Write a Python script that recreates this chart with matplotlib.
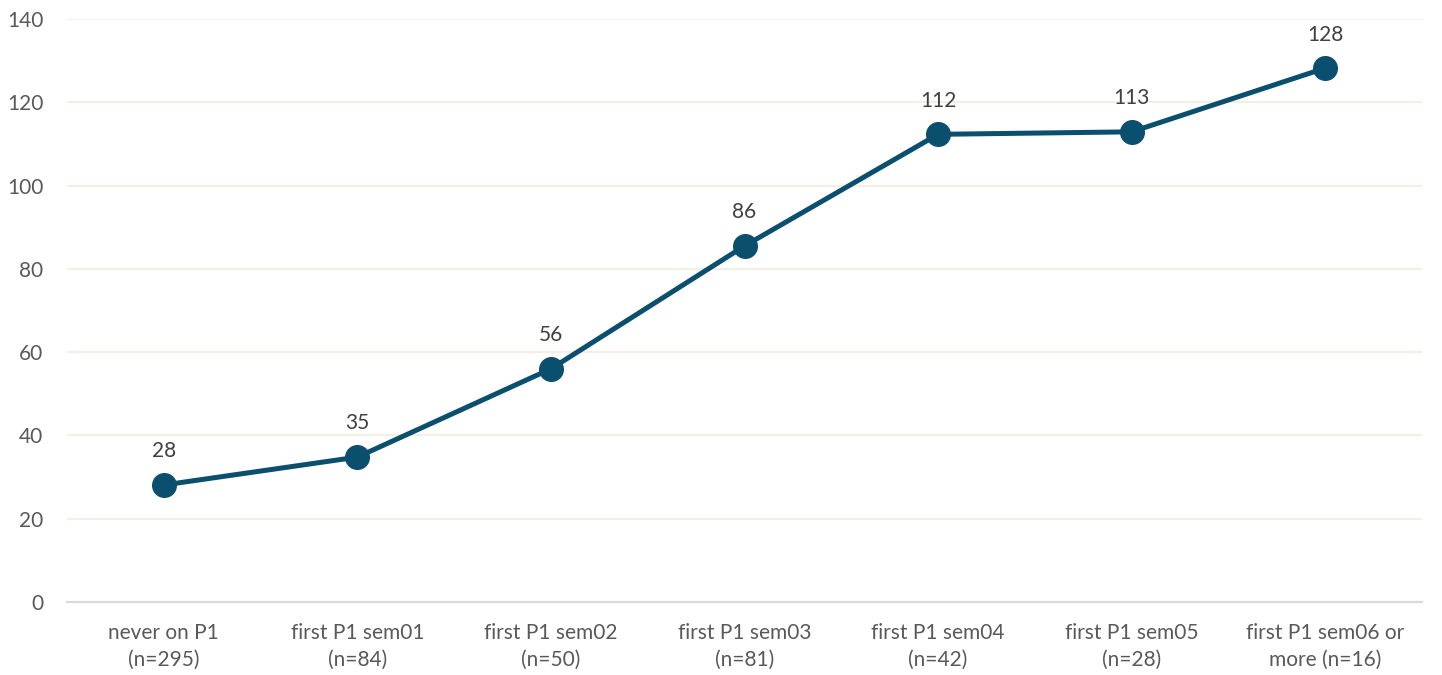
import numpy as np
import matplotlib.pyplot as plt

plt.rcParams['font.family'] = ['Lato', 'DejaVu Sans']

# *****************************************************************************

CATEGORIES = ['never on P1\n(n=295)', 'first P1 sem01\n(n=84)',
              'first P1 sem02\n(n=50)', 'first P1 sem03\n(n=81)',
              'first P1 sem04\n(n=42)', 'first P1 sem05\n(n=28)',
              'first P1 sem06 or\nmore (n=16)']
VALUES = [28.1, 34.8, 56.0, 85.5, 112.3, 112.9, 128.2]
LABELS = ['28', '35', '56', '86', '112', '113', '128']
YTICKS = [0, 20, 40, 60, 80, 100, 120, 140]

LINE_CLR = '#0A4F6E'

# *****************************************************************************


def make_fig():

    fig01 = plt.figure(figsize=(14.42, 6.75), dpi=100)
    axs01 = fig01.add_axes([0.0465, 0.1081, 0.9396, 0.8638])

    xvals = np.arange(len(CATEGORIES))

    axs01.plot(xvals, VALUES, color=LINE_CLR, lw=3.6, marker='o', ms=17,
               solid_capstyle='round', zorder=3)

    for xv, yv, lab in zip(xvals, VALUES, LABELS):
        axs01.annotate(lab, (xv, yv), xytext=(0, 17), textcoords='offset points',
                       ha='center', va='bottom', fontsize=15, color='#404040')

    axs01.set_xlim(-0.5, len(CATEGORIES)-0.5)
    axs01.set_ylim(0, 140)
    axs01.set_yticks(YTICKS)
    axs01.set_xticks(xvals)
    axs01.set_xticklabels(CATEGORIES, linespacing=1.45)

    axs01.grid(visible=True, axis='y', color='#F3EFE4', lw=1.5)
    axs01.set_axisbelow(True)

    for side in ['top', 'right', 'left']:
        axs01.spines[side].set_visible(False)
    axs01.spines['bottom'].set_color('#D9D9D9')
    axs01.spines['bottom'].set_linewidth(1.5)

    axs01.tick_params(axis='both', length=0, labelsize=15,
                      labelcolor='#595959')
    axs01.tick_params(axis='y', pad=17)
    axs01.tick_params(axis='x', pad=15)

    plt.savefig('out.png', dpi=100)
    plt.close()

    return None

# *****************************************************************************


if (__name__ == "__main__"):

    make_fig()
